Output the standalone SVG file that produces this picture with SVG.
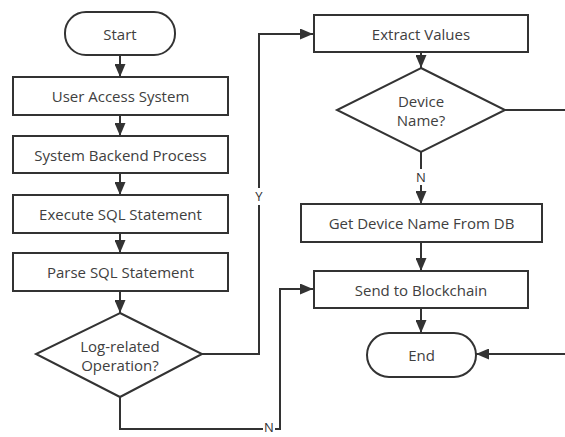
<svg xmlns="http://www.w3.org/2000/svg" width="565" height="437" viewBox="0 0 565 437">
  <style>
    .shape { fill: #ffffff; stroke: #333333; stroke-width: 2; }
    .label { font-family: "Open Sans", "Noto Sans", "DejaVu Sans", sans-serif; font-size: 15px; fill: #404040; text-anchor: middle; dominant-baseline: central; }
    .edge { fill: none; stroke: #333333; stroke-width: 2; }
    .edge-label { font-family: "Open Sans", "Noto Sans", "DejaVu Sans", sans-serif; font-size: 13px; fill: #333333; text-anchor: middle; dominant-baseline: central; }
  </style>
  <defs>
    <marker id="arrow" viewBox="0 0 13 11" refX="13" refY="5.5" markerWidth="6.5" markerHeight="5.5" orient="auto" markerUnits="strokeWidth">
      <path d="M0,0 L13,5.5 L0,11 z" fill="#333333"/>
    </marker>
  </defs>
  <rect width="565" height="437" fill="#ffffff"/>

  <g id="connectors">
    <path class="edge" d="M120,55 V77" marker-end="url(#arrow)"/>
    <path class="edge" d="M120,115 V136" marker-end="url(#arrow)"/>
    <path class="edge" d="M120,173 V195" marker-end="url(#arrow)"/>
    <path class="edge" d="M120,233 V253" marker-end="url(#arrow)"/>
    <path class="edge" d="M120,291 V313" marker-end="url(#arrow)"/>
    <!-- Y branch -->
    <path class="edge" d="M202,354 H259 V205"/>
    <path class="edge" d="M259,188 V34 H313" marker-end="url(#arrow)"/>
    <text class="edge-label" x="259" y="196">Y</text>
    <!-- N branch -->
    <path class="edge" d="M120,397 V429 H263"/>
    <path class="edge" d="M275,429 H280 V289 H313" marker-end="url(#arrow)"/>
    <text class="edge-label" x="269" y="427">N</text>
    <path class="edge" d="M421,52 V68" marker-end="url(#arrow)"/>
    <path class="edge" d="M421,152 V169"/>
    <text class="edge-label" x="421" y="177">N</text>
    <path class="edge" d="M421,185 V204" marker-end="url(#arrow)"/>
    <path class="edge" d="M505,110 H565"/>
    <path class="edge" d="M421,242 V271" marker-end="url(#arrow)"/>
    <path class="edge" d="M421,308 V333" marker-end="url(#arrow)"/>
    <path class="edge" d="M565,354 H476" marker-end="url(#arrow)"/>
  </g>

  <g id="start">
    <rect class="shape" x="65" y="12" width="110" height="43" rx="21"/>
    <text class="label" x="120" y="33.5">Start</text>
  </g>
  <g id="user-access">
    <rect class="shape" x="13" y="77" width="215" height="38"/>
    <text class="label" x="120.5" y="96">User Access System</text>
  </g>
  <g id="backend-process">
    <rect class="shape" x="13" y="136" width="215" height="37"/>
    <text class="label" x="120.5" y="154.5">System Backend Process</text>
  </g>
  <g id="execute-sql">
    <rect class="shape" x="13" y="195" width="215" height="38"/>
    <text class="label" x="120.5" y="214">Execute SQL Statement</text>
  </g>
  <g id="parse-sql">
    <rect class="shape" x="13" y="253" width="215" height="38"/>
    <text class="label" x="120.5" y="272">Parse SQL Statement</text>
  </g>
  <g id="log-related">
    <polygon class="shape" points="120,313 202,354 120,397 36,354"/>
    <text class="label" x="120" y="346">Log-related</text>
    <text class="label" x="120" y="365">Operation?</text>
  </g>
  <g id="extract-values">
    <rect class="shape" x="314" y="15" width="214" height="37"/>
    <text class="label" x="421" y="33.5">Extract Values</text>
  </g>
  <g id="device-name">
    <polygon class="shape" points="421,68 505,110 421,152 337,110"/>
    <text class="label" x="421" y="101">Device</text>
    <text class="label" x="421" y="120">Name?</text>
  </g>
  <g id="get-device-name">
    <rect class="shape" x="301" y="204" width="241" height="38"/>
    <text class="label" x="421.5" y="223">Get Device Name From DB</text>
  </g>
  <g id="send-blockchain">
    <rect class="shape" x="314" y="271" width="214" height="37"/>
    <text class="label" x="421" y="289.5">Send to Blockchain</text>
  </g>
  <g id="end">
    <rect class="shape" x="367" y="333" width="109" height="44" rx="22"/>
    <text class="label" x="421.5" y="355">End</text>
  </g>
</svg>
